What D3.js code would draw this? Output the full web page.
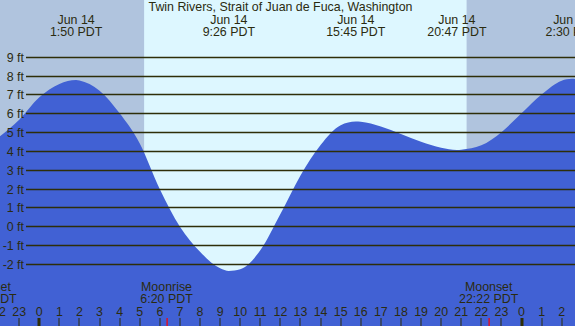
<!DOCTYPE html>
<html><head><meta charset="utf-8">
<script src="https://cdn.jsdelivr.net/npm/d3@7"></script>
<style>body{margin:0;padding:0;overflow:hidden;background:#fff}svg{display:block}text{font-family:"Liberation Sans",Arial,sans-serif;font-size:12.4px;fill:#2b2b10}</style>
</head><body>
<script>
const title = "Twin Rivers, Strait of Juan de Fuca, Washington";
// hours since midnight Jun 14 (PDT), tide height in ft
const tideHours   = [-2, -1, 0, 1, 1.833, 2, 3, 4, 5, 6, 7, 8, 9, 9.433, 10, 11, 12, 13, 14, 15, 15.75, 16, 17, 18, 19, 20, 20.783, 21, 22, 23, 24, 25, 26, 26.5, 27];
const tideHeights = [4.75, 5.66, 6.85, 7.56, 7.77, 7.74, 7.2, 6.0, 4.4, 1.97, -0.02, -1.35, -2.23, -2.37, -2.28, -1.27, 0.65, 2.7, 4.32, 5.37, 5.57, 5.55, 5.3, 4.9, 4.49, 4.17, 4.05, 4.07, 4.3, 5.0, 6.0, 7.0, 7.73, 7.83, 7.76];
// extremes labels at top
const extremeHours = [1.833, 9.433, 15.75, 20.783, 26.5];
const extremeDates = ["Jun 14", "Jun 14", "Jun 14", "Jun 14", "Jun 15"];
const extremeTimes = ["1:50 PDT", "9:26 PDT", "15:45 PDT", "20:47 PDT", "2:30 PDT"];
// sun
const sunriseHour = 5.217, sunsetHour = 21.267;
// moon events
const moonHours = [-2.6, 6.333, 22.367];
const moonNames = ["Moonset", "Moonrise", "Moonset"];
const moonTimes = ["21:24 PDT", "6:20 PDT", "22:22 PDT"];
// axis
const yTicks = [-2, -1, 0, 1, 2, 3, 4, 5, 6, 7, 8, 9];
const hourTicks = d3.range(-2, 27);

const W = 575, H = 326;
const x = d3.scaleLinear().domain([0, 24]).range([39.3, 521.5]);
const y = d3.scaleLinear().domain([0, 9]).range([226.3, 56.8]);

const svg = d3.select("body").append("svg").attr("width", W).attr("height", H);

// background night/day
svg.append("rect").attr("x", 0).attr("y", 0).attr("width", W).attr("height", H).attr("fill", "#b0c4de");
svg.append("rect").attr("x", x(sunriseHour)).attr("y", 0)
  .attr("width", x(sunsetHour) - x(sunriseHour)).attr("height", H).attr("fill", "#ddf7ff");

// tide area
const pts = tideHours.map((h, i) => [h, tideHeights[i]]);
const area = d3.area().x(d => x(d[0])).y0(H).y1(d => y(d[1])).curve(d3.curveMonotoneX);
svg.append("path").datum(pts).attr("d", area).attr("fill", "#4161d4");

// grid lines and labels
const g = svg.append("g");
yTicks.forEach(v => {
  g.append("line").attr("x1", 26).attr("x2", W).attr("y1", Math.round(y(v)) + 0.5).attr("y2", Math.round(y(v)) + 0.5)
    .attr("stroke", "#2e2e08").attr("stroke-width", 1.4);
  g.append("text").attr("x", 24).attr("y", Math.round(y(v)) + 4.5).attr("text-anchor", "end").text(v + " ft");
});

// title
svg.append("text").attr("x", 280.5).attr("y", 11).attr("text-anchor", "middle").text(title);

// extremes labels
extremeHours.forEach((h, i) => {
  svg.append("text").attr("x", x(h)).attr("y", 24).attr("text-anchor", "middle").text(extremeDates[i]);
  svg.append("text").attr("x", x(h)).attr("y", 36).attr("text-anchor", "middle").text(extremeTimes[i]);
});

// moon labels
moonHours.forEach((h, i) => {
  svg.append("text").attr("x", x(h)).attr("y", 291).attr("text-anchor", "middle").text(moonNames[i]);
  svg.append("text").attr("x", x(h)).attr("y", 303).attr("text-anchor", "middle").text(moonTimes[i]);
});

// hour ticks
hourTicks.forEach(h => {
  const hh = ((h % 24) + 24) % 24;
  const px = Math.round(x(h));
  svg.append("text").attr("x", x(h)).attr("y", 315.5).attr("text-anchor", "middle").text(hh);
  svg.append("rect").attr("x", hh === 0 ? px - 1.5 : px - 0.5).attr("y", 318)
    .attr("width", hh === 0 ? 3 : 1).attr("height", 8).attr("fill", "#2e2e08");
});
moonHours.forEach(h => {
  svg.append("rect").attr("x", Math.round(x(h)) - 0.5).attr("y", 318).attr("width", 1.2).attr("height", 8).attr("fill", "#ff0000");
});
</script>
</body></html>
